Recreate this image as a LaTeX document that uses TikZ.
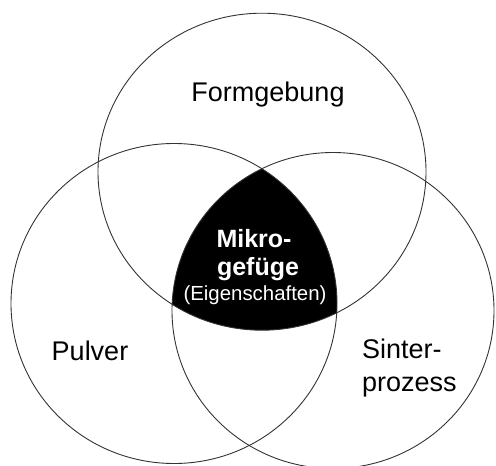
\documentclass[tikz,border=0pt]{standalone}
\usepackage{fontspec}
\setmainfont{Liberation Sans}
\begin{document}
\begin{tikzpicture}[x=1pt,y=-1pt,
  ring/.style={draw=black!80, line width=0.9pt},
  lab/.style={font=\fontsize{27}{33.7}\selectfont, inner sep=0pt},
  core/.style={text=white, inner sep=0pt, anchor=base},
]
\useasboundingbox (0,0) rectangle (496,466);
\begin{scope}
\clip (0,0) rectangle (496,466);
\coordinate (T) at (262,171.7);
\coordinate (L) at (174,303.5);
\coordinate (R) at (333,310.5);
\begin{scope}
  \clip (T) ellipse [x radius=164pt, y radius=158.5pt];
  \clip (L) ellipse [x radius=163pt, y radius=160pt];
  \fill[black] (R) ellipse [x radius=161pt, y radius=158pt];
\end{scope}
\draw[ring] (T) ellipse [x radius=164pt, y radius=158.5pt];
\draw[ring] (L) ellipse [x radius=163pt, y radius=160pt];
\draw[ring] (R) ellipse [x radius=161pt, y radius=158pt];
\end{scope}
\node[lab, anchor=base] (form) at (268,101) {Formgebung};
\node[lab, anchor=base] (pulver) at (90,360) {Pulver};
\node[lab, anchor=base west, align=left] (sinter) at (362,391.7) {Sinter-\\prozess};
\node[core, font=\fontsize{25}{28}\selectfont\bfseries] (mikro1) at (254,247) {Mikro-};
\node[core, font=\fontsize{25}{28}\selectfont\bfseries] (mikro2) at (258,275) {gefüge};
\node[core, font=\fontsize{20.4}{24}\selectfont] (mikro3) at (255,300) {(Eigenschaften)};
\end{tikzpicture}
\end{document}
